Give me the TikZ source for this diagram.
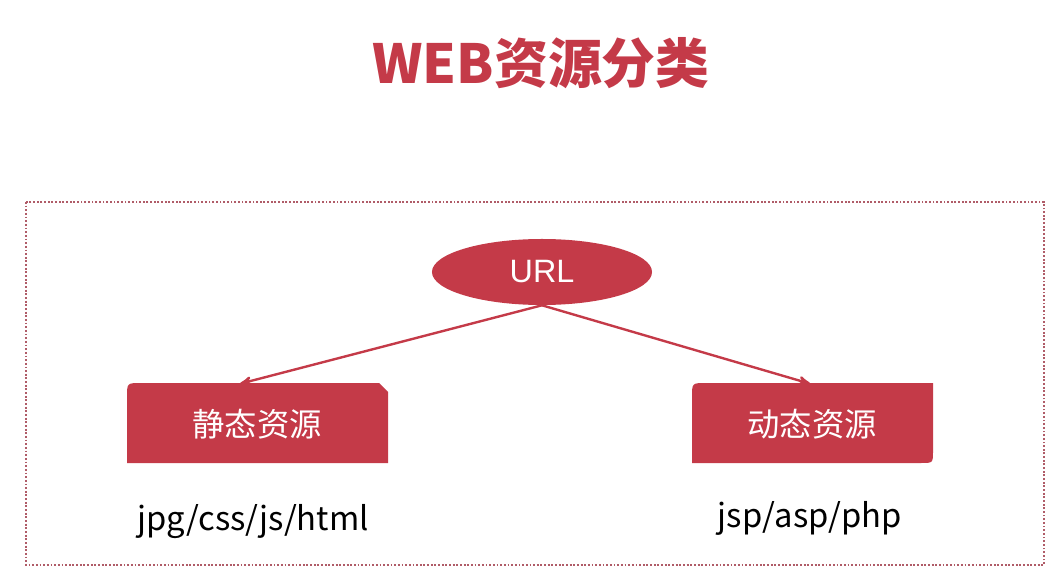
\documentclass[tikz,border=0pt]{standalone}
\usepackage{fontspec}
\setmainfont{Noto Sans CJK SC}
\newfontfamily\urlfont{Liberation Sans}
\usetikzlibrary{arrows}
\usetikzlibrary{shapes.geometric}
\definecolor{webred}{RGB}{196,58,72}
\definecolor{dotred}{RGB}{176,92,104}

\begin{document}
\begin{tikzpicture}[x=0.025cm,y=-0.025cm,
    boxtext/.style={minimum width=6.5cm,minimum height=2cm,inner sep=0pt,
        text=white,font=\fontsize{23}{26}\selectfont},
    kind/.style={anchor=base,font=\fontsize{23.3}{26}\selectfont}]
        \useasboundingbox (0,0) rectangle (1059,577);
        \node[text=webred,font=\bfseries\fontsize{38.3}{42}\selectfont] (title) at (541,63) {WEB资源分类};
        \draw[dotred,line width=1.3pt,dash pattern=on 1.3pt off 1.3pt] (26,202) rectangle (1044,565);
        \node[ellipse,fill=webred,minimum width=5.5cm,minimum height=1.65cm,text=white,
            font=\urlfont\fontsize{23}{25}\selectfont] (url) at (542,272) {URL};
        % the two boxes
        \fill[webred] (127,463) -- (127,397) .. controls (127,383) .. (141,383)
            -- (379,383) -- (388,392) -- (388,463) -- cycle;
        \fill[webred] (692,463) -- (692,397) .. controls (692,383) .. (706,383)
            -- (933,383) -- (933,451) .. controls (933,463) .. (921,463) -- cycle;
        \node[boxtext] (static) at (257,424) {静态资源};
        \node[boxtext] (dynamic) at (812,424) {动态资源};
        \draw[webred,line width=1.7pt,->,>=stealth'] (url.south) -- ([xshift=-0.42cm]static.north);
        \draw[webred,line width=1.7pt,->,>=stealth'] (url.south) -- ([xshift=-0.05cm]dynamic.north);
        \node[kind] (statext) at (253,530) {jpg/css/js/html};
        \node[kind] (dynext) at (810,527) {jsp/asp/php};
\end{tikzpicture}
\end{document}
